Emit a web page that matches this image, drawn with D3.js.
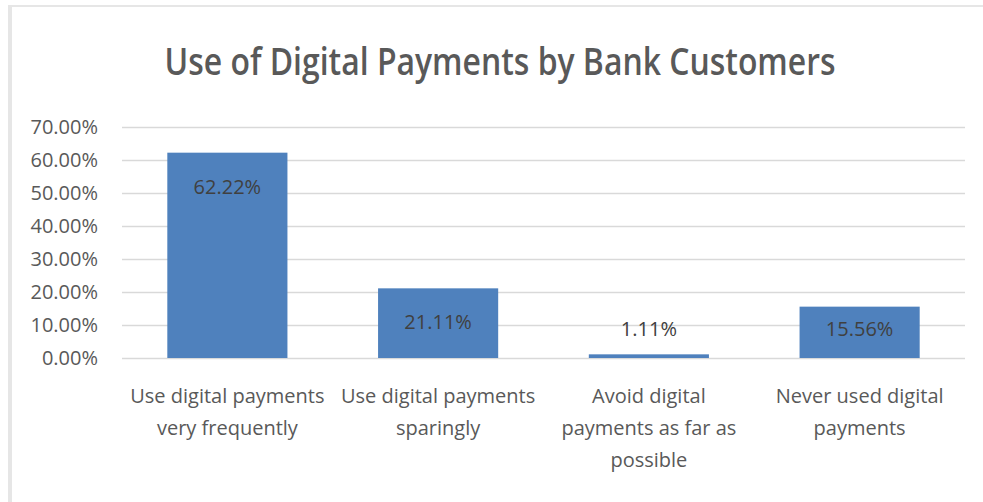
<!DOCTYPE html>
<html>
<head>
<meta charset="utf-8">
<script src="https://cdn.jsdelivr.net/npm/d3@7"></script>
<style>
  html, body { margin: 0; padding: 0; background: #ffffff; }
  svg { display: block; }
  text { font-family: "Open Sans", "Noto Sans", sans-serif; }
</style>
</head>
<body>
<div id="chart"></div>
<script>
// Survey results: how bank customers use digital payments
const categories = [
  ["Use digital payments", "very frequently"],
  ["Use digital payments", "sparingly"],
  ["Avoid digital", "payments as far as", "possible"],
  ["Never used digital", "payments"]
];
const shares = [62.22, 21.11, 1.11, 15.56];
const yTicks = [0, 10, 20, 30, 40, 50, 60, 70];
const titleText = "Use of Digital Payments by Bank Customers";

const W = 983, H = 502;
const margin = { top: 127, right: 18, bottom: 144, left: 122 };

const svg = d3.select("#chart").append("svg")
  .attr("width", W).attr("height", H);

// chart area frame (top and left edges)
svg.append("rect").attr("x", 8).attr("y", 5).attr("width", W - 8).attr("height", 2).attr("fill", "#e6e6e6");
svg.append("rect").attr("x", 8).attr("y", 5).attr("width", 4).attr("height", H - 5).attr("fill", "#e6e6e6");

const x = d3.scaleBand()
  .domain(d3.range(categories.length))
  .range([margin.left, W - margin.right])
  .paddingInner(0.43).paddingOuter(0.215);

const y = d3.scaleLinear()
  .domain([0, 70])
  .range([H - margin.bottom, margin.top]);

// gridlines
const grid = d3.axisLeft(y).tickValues(yTicks)
  .tickSize(-(W - margin.right - margin.left)).tickFormat("");
svg.append("g").attr("transform", `translate(${margin.left},0)`).call(grid)
  .call(g => g.select(".domain").remove())
  .call(g => g.selectAll("line").attr("stroke", "#d9d9d9").attr("stroke-width", 1.5));

// y-axis labels
const yAxis = d3.axisLeft(y).tickValues(yTicks)
  .tickSize(0).tickPadding(24)
  .tickFormat(d => d.toFixed(2) + "%");
svg.append("g").attr("transform", `translate(${margin.left},0)`).call(yAxis)
  .call(g => g.select(".domain").remove())
  .call(g => g.selectAll("text").attr("fill", "#595959")
    .style("font-size", "20px").style("font-family", null));

// bars
svg.append("g").selectAll("rect").data(shares).join("rect")
  .attr("x", (d, i) => x(i))
  .attr("width", x.bandwidth())
  .attr("y", d => y(d))
  .attr("height", d => y(0) - y(d))
  .attr("fill", "#4f81bd");

// value labels, inside the bar end where space allows
svg.append("g").selectAll("text").data(shares).join("text")
  .attr("x", (d, i) => x(i) + x.bandwidth() / 2)
  .attr("y", d => Math.min(y(d) + 34, y(0) - 29))
  .attr("dy", "0.35em")
  .attr("text-anchor", "middle")
  .attr("fill", "#404040")
  .style("font-size", "20px")
  .text(d => d.toFixed(2) + "%");

// category labels
const cat = svg.append("g").selectAll("text").data(categories).join("text")
  .attr("text-anchor", "middle")
  .attr("fill", "#595959")
  .style("font-size", "20px")
  .attr("transform", (d, i) => `translate(${x(i) + x.bandwidth() / 2},${y(0) + 38})`);
cat.selectAll("tspan").data(d => d).join("tspan")
  .attr("x", 0)
  .attr("y", (d, j) => j * 32)
  .attr("dy", "0.35em")
  .text(d => d);

// title
svg.append("text")
  .attr("x", 500).attr("y", 62)
  .attr("dy", "0.35em")
  .attr("text-anchor", "middle")
  .attr("fill", "#595959")
  .style("font-size", "38px")
  .style("font-weight", "600")
  .attr("textLength", 671)
  .attr("lengthAdjust", "spacingAndGlyphs")
  .text(titleText);
</script>
</body>
</html>
